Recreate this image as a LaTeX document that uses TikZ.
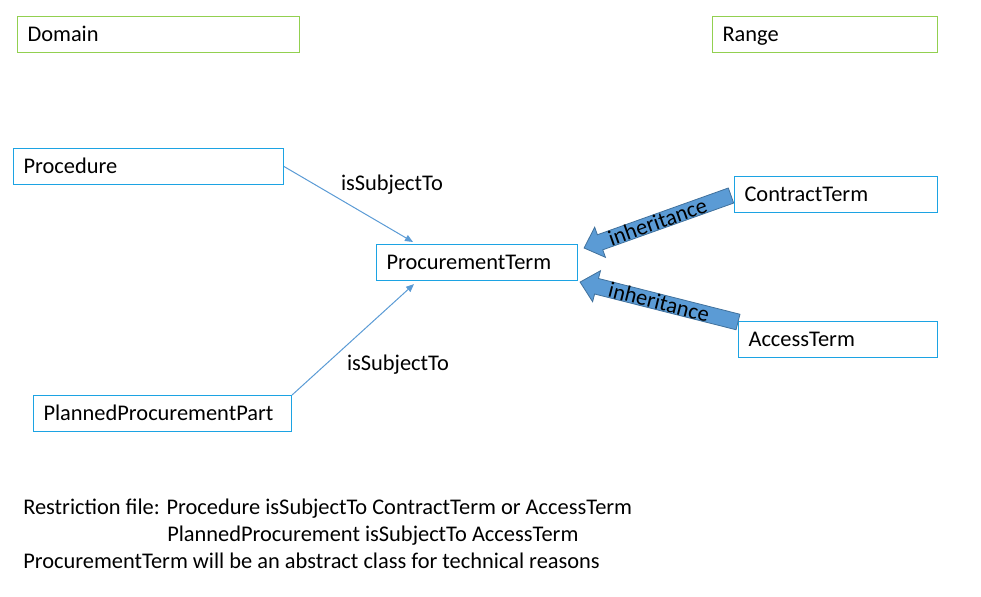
\documentclass[tikz,border=0pt]{standalone}
\usepackage{fontspec}
\setmainfont{Carlito}
\usetikzlibrary{calc,positioning,arrows.meta}
\definecolor{termblue}{HTML}{1CA3E3}
\definecolor{rangegreen}{HTML}{92D050}
\definecolor{linkblue}{HTML}{5B9BD5}
\definecolor{inhline}{HTML}{41719C}

% bloc fleche d'heritage : #1 queue, #2 pointe
\newcommand{\inharrow}[2]{%
  \coordinate (hb) at ($(#2)!12.75pt!(#1)$);
  \filldraw[inhstyle] ($(#1)!6pt!90:(#2)$) -- ($(hb)!6pt!90:(#2)$)
    -- ($(hb)!12pt!90:(#2)$) -- (#2) -- ($(hb)!12pt!-90:(#2)$)
    -- ($(hb)!6pt!-90:(#2)$) -- ($(#1)!6pt!-90:(#2)$) -- cycle;
  \path (#1) -- (#2) node[midway, sloped] {inheritance};
}

\tikzset{
  termbox/.style={draw=termblue, line width=0.8pt, anchor=north west,
    minimum height=27pt, text width=#1, align=left, inner xsep=7.5pt,
    text height=10.6pt, text depth=0pt},
  setbox/.style={termbox=#1, draw=rangegreen},
  link/.style={draw=linkblue, line width=0.75pt, -{Triangle[length=6pt,width=5pt]}},
  inhstyle/.style={fill=linkblue, draw=inhline, line width=0.6pt},
  plain/.style={anchor=west, inner sep=0pt, text height=10.6pt, text depth=0pt}
}

\begin{document}
\begin{tikzpicture}[x=0.75pt, y=-0.75pt, font=\fontsize{16.8pt}{20pt}\selectfont]
\useasboundingbox (0,0) rectangle (981,596);

% Domaine et image
\node[setbox=196.5pt] (Domain) at (17,16) {Domain};
\node[setbox=153.75pt] (Range) at (712,16) {Range};

% Classes
\node[termbox=187.5pt] (Procedure) at (13,148) {Procedure};
\node[termbox=178.5pt] (PlannedPart) at (33,395) {PlannedProcurementPart};
\node[termbox=135.75pt] (ProcurementTerm) at (376,244) {ProcurementTerm};
\node[termbox=137.25pt] (ContractTerm) at (734,176) {ContractTerm};
\node[termbox=134.25pt] (AccessTerm) at (738,321) {AccessTerm};

% isSubjectTo
\draw[link] (Procedure.east) -- ($(ProcurementTerm.north west)+(37,-2)$);
\draw[link] (PlannedPart.north east) -- ($(ProcurementTerm.south west)+(38,3)$);
\node (subjTop) at (392,185) {isSubjectTo};
\node (subjBottom) at (398,365) {isSubjectTo};

% heritage
\coordinate (ct tail) at ($(ContractTerm.west)+(-3,1)$);
\coordinate (ct tip) at ($(ProcurementTerm.north east)+(6,4)$);
\coordinate (at tail) at ($(AccessTerm.north west)+(0,1)$);
\coordinate (at tip) at ($(ProcurementTerm.south east)+(2,1)$);
\inharrow{ct tail}{ct tip}
\inharrow{at tail}{at tip}

% Remarques
\node[plain] (note1) at (23,507) {Restriction file: Procedure isSubjectTo ContractTerm or AccessTerm};
\node[plain] (note2) at (167,534) {PlannedProcurement isSubjectTo AccessTerm};
\node[plain] (note3) at (23,561) {ProcurementTerm will be an abstract class for technical reasons};
\end{tikzpicture}
\end{document}
